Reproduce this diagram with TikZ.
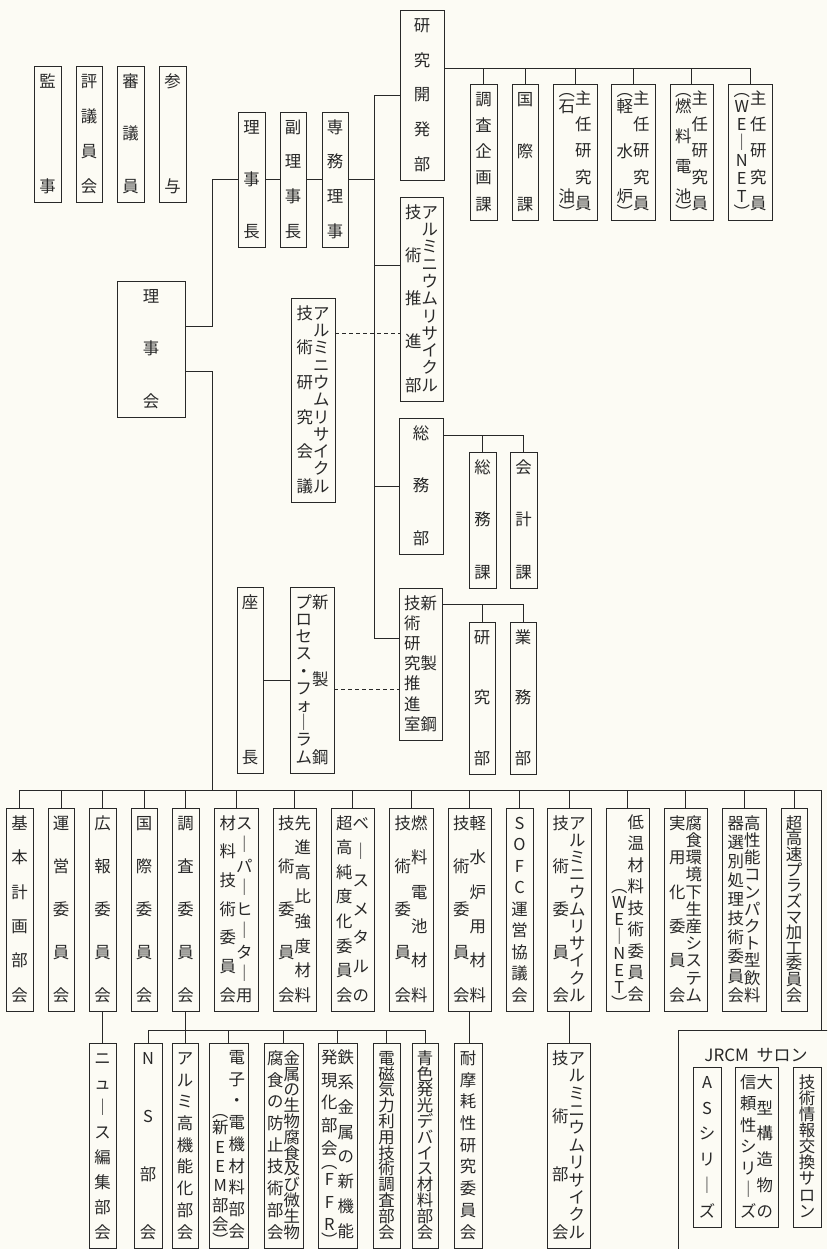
\documentclass[tikz,border=0pt]{standalone}
\usepackage{fontspec}
\newfontfamily\jp{Noto Sans CJK JP}
\usetikzlibrary{fit,calc}
\definecolor{paper}{RGB}{252,251,244}
\definecolor{ink}{RGB}{40,40,40}
\newdimen\pxu \pxu=0.03cm
\makeatletter
% vertical writing: one column, items spread from top to bottom
\def\vlp{︵}\def\vrp{︶}
\newcommand\fcell[1]{\hbox to 1em{\hss\vrule height .8em depth .1em width 0pt\smash{#1}\hss}}
\newcommand\lpcell[1]{\hbox to 1em{\hss\vrule height .3em depth .2em width 0pt\smash{#1}\hss}}
\newcommand\rpcell[1]{\hbox to 1em{\hss\vrule height .3em depth .2em width 0pt\smash{\raisebox{-.55em}{#1}}\hss}}
\newcommand\vcell[1]{\ifx#1\vlp\lpcell{#1}\else\ifx#1\vrp\rpcell{#1}\else\fcell{#1}\fi\fi}
\newcommand\tstack[1]{\vbox{\offinterlineskip\@tfor\tchar:=#1\do{\vcell\tchar}}}
\newcommand\vc[3][0]{\vtop to #2\pxu{\offinterlineskip\vskip #1\pxu\relax
  \let\vsep\relax
  \@tfor\vitem:=#3\do{\vsep\expandafter\tstack\expandafter{\vitem}\let\vsep\vfill}}}
\makeatother

\begin{document}
\begin{tikzpicture}[x=0.03cm,y=-0.03cm,
  box/.style={draw=ink,line width=.8pt,inner sep=0pt,outer sep=0pt,text=ink,
    font=\jp\fontsize{14}{14}\selectfont},
  link/.style={draw=ink,line width=.8pt}]
  \useasboundingbox (0,0) rectangle (827,1249);
  \clip (0,0) rectangle (827,1249);
  \fill[paper] (0,0) rectangle (827,1249);

  % top left
  \node[box,fit={(34,66) (61,202)}] (kanji) {\vc{118}{監事}};
  \node[box,fit={(76,66) (102,202)}] (hyogiin) {\vc{118}{評議員会}};
  \node[box,fit={(117,66) (144,202)}] (shingiin) {\vc{118}{審議員}};
  \node[box,fit={(159,66) (186,202)}] (sanyo) {\vc{118}{参与}};
  \node[box,fit={(238,112) (265,247)}] (richo) {\vc{117}{理事長}};
  \node[box,fit={(280,112) (306,247)}] (fukuricho) {\vc{117}{副理事長}};
  \node[box,fit={(322,112) (348,247)}] (senmu) {\vc{117}{専務理事}};
  \node[box,fit={(117,281) (185,417)}] (rijikai) {\vc{118}{理事会}};

  % research division
  \node[box,fit={(400,10) (444,180)}] (kenkyu) {\vc{152}{研究開発部}};
  \node[box,fit={(470,84) (497,220)}] (chosakikaku) {\vc{118}{調査企画課}};
  \node[box,fit={(512,84) (538,220)}] (kokusaika) {\vc{118}{国際課}};
  \node[box,fit={(553,84) (597,220)}] (sekiyu) {\vc{118}{{︵石}{油︶}}\vc{118}{主任研究員}};
  \node[box,fit={(611,84) (655,220)}] (keisuiro) {\vc{118}{{︵軽}水{炉︶}}\vc{118}{主任研究員}};
  \node[box,fit={(670,84) (713,220)}] (nenryo) {\vc{118}{{︵燃}料電{池︶}}\vc{118}{主任研究員}};
  \node[box,fit={(728,84) (772,220)}] (wenet) {\vc{118}{{︵W}E｜NE{T︶}}\vc{118}{主任研究員}};

  \node[box,fit={(400,197) (443,401)}] (suishin) {\vc{186}{技術推進部}\vc{186}{アルミニウムリサイクル}};
  \node[box,fit={(291,298) (335,502)}] (kaigi) {\vc{186}{技術研究会議}\vc{186}{アルミニウムリサイクル}};
  \node[box,fit={(399,418) (443,554)}] (somu) {\vc{118}{総務部}};
  \node[box,fit={(469,452) (496,588)}] (somuka) {\vc{118}{総務課}};
  \node[box,fit={(510,452) (537,588)}] (kaikei) {\vc{118}{会計課}};
  \node[box,fit={(399,588) (442,740)}] (shitsu) {\vc{134}{技術研究推進室}\vc{134}{新製鋼}};
  \node[box,fit={(469,622) (495,774)}] (kenkyubu) {\vc{134}{研究部}};
  \node[box,fit={(510,622) (536,774)}] (gyomu) {\vc{134}{業務部}};
  \node[box,fit={(237,587) (263,773)}] (zacho) {\vc{168}{座長}};
  \node[box,fit={(290,587) (334,773)}] (forum) {\vc{168}{プロセス・フォ｜ラム}\vc{168}{新製鋼}};

  % committees
  \node[box,fit={(6,808) (33,1011)}] (kihon) {\vc{185}{基本計画部会}};
  \node[box,fit={(48,808) (74,1011)}] (unei) {\vc{185}{運営委員会}};
  \node[box,fit={(89,808) (116,1011)}] (koho) {\vc{185}{広報委員会}};
  \node[box,fit={(131,808) (157,1011)}] (kokusai) {\vc{185}{国際委員会}};
  \node[box,fit={(172,808) (199,1011)}] (chosa) {\vc{185}{調査委員会}};
  \node[box,fit={(214,808) (258,1011)}] (superh) {\vc{185}{材料技術委員会}\vc{185}{ス｜パ｜ヒ｜タ｜用}};
  \node[box,fit={(273,808) (316,1011)}] (senshin) {\vc{185}{技術委員会}\vc{185}{先進高比強度材料}};
  \node[box,fit={(331,808) (374,1011)}] (basemetal) {\vc{185}{超高純度化委員会}\vc{185}{ベ｜スメタルの}};
  \node[box,fit={(389,808) (433,1011)}] (denchi) {\vc{185}{技術委員会}\vc{185}{燃料電池材料}};
  \node[box,fit={(448,808) (491,1011)}] (keisui) {\vc{185}{技術委員会}\vc{185}{軽水炉用材料}};
  \node[box,fit={(506,808) (533,1011)}] (sofc) {\vc{185}{SOFC運営協議会}};
  \node[box,fit={(547,808) (591,1011)}] (alcom) {\vc{185}{技術委員会}\vc{185}{アルミニウムリサイクル}};
  \node[box,fit={(606,808) (649,1011)}] (teion) {\vc[72]{185}{{︵W}E｜NE{T︶}}\vc{185}{低温材料技術委員会}};
  \node[box,fit={(664,808) (707,1011)}] (fushoku) {\vc{185}{実用化委員会}\vc{185}{腐食環境下生産システム}};
  \node[box,fit={(722,808) (766,1011)}] (kosei) {\vc{185}{器選別処理技術委員会}\vc{185}{高性能コンパクト型飲料}};
  \node[box,fit={(781,808) (807,1011)}] (plasma) {\vc{185}{超高速プラズマ加工委員会}};

  % sub committees
  \node[box,fit={(89,1043) (116,1248)}] (news) {\vc{187}{ニュ｜ス編集部会}};
  \node[box,fit={(134,1043) (162,1248)}] (ns) {\vc{187}{NS部会}};
  \node[box,fit={(172,1043) (198,1248)}] (alhi) {\vc{187}{アルミ高機能化部会}};
  \node[box,fit={(209,1043) (248,1248)}] (denshi) {\vc[62]{187}{{︵新}EEM部{会︶}}\vc{187}{電子・電機材料部会}};
  \node[box,fit={(264,1043) (303,1248)}] (seibutsu) {\vc{187}{腐食の防止技術部会}\vc{187}{金属の生物腐食及び微生物}};
  \node[box,fit={(318,1043) (357,1248)}] (tekkei) {\vc{187}{発現化部会{︵F}F{R︶}}\vc{187}{鉄系金属の新機能}};
  \node[box,fit={(373,1043) (400,1248)}] (denji) {\vc{187}{電磁気力利用技術調査部会}};
  \node[box,fit={(412,1043) (438,1248)}] (seishoku) {\vc{187}{青色発光デバイス材料部会}};
  \node[box,fit={(454,1043) (482,1248)}] (taima) {\vc{187}{耐摩耗性研究委員会}};
  \node[box,fit={(547,1043) (590,1248)}] (albu) {\vc{187}{技術部会}\vc{187}{アルミニウムリサイクル}};

  % salon
  \node[box,fit={(678,1030) (900,1300)}] (salon) {};
  \node[text=ink,font=\jp\fontsize{14.5}{14.5}\selectfont] (salontitle) at (756,1055) {JRCM\ \ サロン};
  \node[box,fit={(693,1067) (721,1227)}] (asser) {\vc{142}{ASシリ｜ズ}};
  \node[box,fit={(735,1067) (778,1227)}] (oogata) {\vc{142}{信頼性シリ｜ズ}\vc{142}{大型構造物の}};
  \node[box,fit={(793,1067) (821,1227)}] (joho) {\vc{142}{技術情報交換サロン}};

  % lines
  \coordinate (jtop) at (212,179.5);
  \draw[link] ($(rijikai.east)+(0,-23)$) -| (jtop) -- (richo.west);
  \draw[link] (richo) -- (fukuricho);
  \draw[link] (fukuricho) -- (senmu);
  \coordinate (trunk) at (374,0);
  \draw[link] (senmu.east) -- (senmu.east -| trunk);
  \draw[link] (kenkyu.west) -| ($(shitsu.west -| trunk)+(0,-26)$) -- ($(shitsu.west)+(0,-26)$);
  \draw[link] ($(suishin.west)+(0,-34)$) -- ($(suishin.west -| trunk)+(0,-34)$);
  \draw[link] (somu.west) -- (somu.west -| trunk);
  \draw[link,dashed] ($(kaigi.east)+(0,-67)$) -- ($(kaigi.east -| suishin.west)+(0,-67)$);
  \draw[link] (zacho) -- (forum);
  \draw[link,dashed] ($(forum.east)+(0,9)$) -- ($(forum.east -| shitsu.west)+(0,9)$);

  \coordinate (kbus) at ($(kenkyu.east)+(0,-27)$);
  \draw[link] (kbus) -- (kbus -| wenet.north);
  \foreach \b in {chosakikaku,kokusaika,sekiyu,keisuiro,nenryo,wenet}
    \draw[link] (kbus -| \b.north) -- (\b.north);
  \coordinate (sbus) at ($(somu.east)+(0,-51)$);
  \draw[link] (sbus) -- (sbus -| kaikei.north);
  \foreach \b in {somuka,kaikei}
    \draw[link] (sbus -| \b.north) -- (\b.north);
  \coordinate (rbus) at ($(shitsu.east)+(0,-60)$);
  \draw[link] (rbus) -- (rbus -| gyomu.north);
  \foreach \b in {kenkyubu,gyomu}
    \draw[link] (rbus -| \b.north) -- (\b.north);

  \coordinate (jbus) at (212,790);
  \coordinate (bend) at (821,790);
  \draw[link] ($(rijikai.east)+(0,22)$) -| (jbus);
  \draw[link] (jbus -| kihon.north) -- (bend) -- (bend |- salon.north);
  \foreach \b in {kihon,unei,koho,kokusai,chosa,superh,senshin,basemetal,denchi,keisui,sofc,alcom,teion,fushoku,kosei,plasma}
    \draw[link] (jbus -| \b.north) -- (\b.north);

  \draw[link] (koho) -- (news);
  \draw[link] (chosa.south) -- (chosa.south |- alhi.north);
  \coordinate (cbus) at (0,1030);
  \draw[link] (cbus -| ns.north) -- (cbus -| seishoku.north);
  \foreach \b in {ns,denshi,seibutsu,tekkei,denji,seishoku}
    \draw[link] (cbus -| \b.north) -- (\b.north);
  \draw[link] (keisui.south) -- (keisui.south |- taima.north);
  \draw[link] (alcom.south) -- (alcom.south |- albu.north);
\end{tikzpicture}
\end{document}
